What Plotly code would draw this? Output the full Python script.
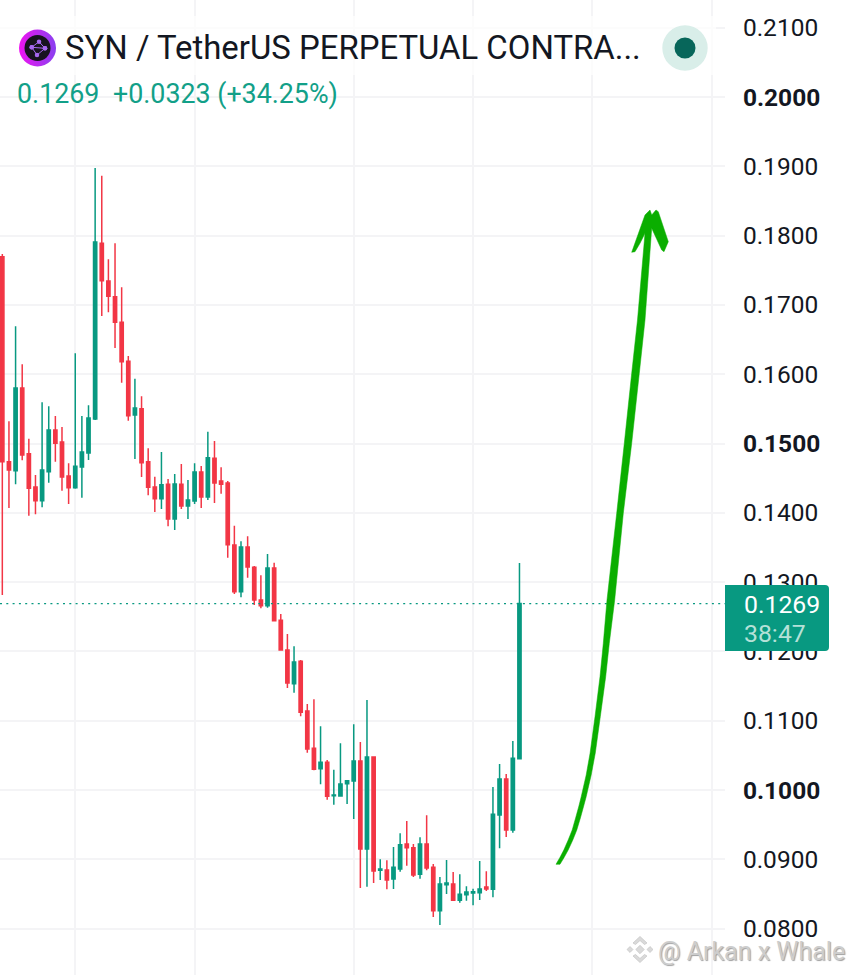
import plotly.graph_objects as go

# candle values
opens = [0.17695, 0.14737, 0.14608, 0.15801, 0.14853, 0.14372, 0.14175, 0.14593, 0.15195, 0.15022,
         0.14531, 0.14362, 0.14661, 0.14863, 0.15354, 0.17889, 0.17345, 0.17118, 0.16749, 0.16186,
         0.15411, 0.15502, 0.14737, 0.14372, 0.14204, 0.14411, 0.13911, 0.14411, 0.14098, 0.14170,
         0.14589, 0.14228, 0.14786, 0.14459, 0.14430, 0.13535, 0.12862, 0.13506, 0.13214, 0.12742,
         0.12660, 0.13203, 0.12449, 0.12020, 0.11534, 0.11857, 0.11140, 0.10602, 0.10307, 0.10400,
         0.09918, 0.09913, 0.10091, 0.10130, 0.10418, 0.09149, 0.10476, 0.08841, 0.08846, 0.08716,
         0.08860, 0.09221, 0.09167, 0.08784, 0.09221, 0.08885, 0.08258, 0.08633, 0.08644, 0.08408,
         0.08489, 0.08514, 0.08518, 0.08600, 0.08567, 0.09639, 0.10159, 0.09423, 0.10452]
highs = [0.17734, 0.15320, 0.16691, 0.16143, 0.15069, 0.14545, 0.15595, 0.15537, 0.15397, 0.15238,
         0.14714, 0.16302, 0.15397, 0.15551, 0.18975, 0.18864, 0.17658, 0.17889, 0.17254, 0.16263,
         0.15935, 0.15681, 0.14931, 0.14521, 0.14877, 0.14488, 0.14560, 0.14704, 0.14473, 0.14714,
         0.14675, 0.15170, 0.15036, 0.14657, 0.14459, 0.13814, 0.13589, 0.13661, 0.13233, 0.13098,
         0.13405, 0.13280, 0.12540, 0.12251, 0.12074, 0.11876, 0.11241, 0.11309, 0.10919, 0.10433,
         0.10293, 0.10674, 0.10144, 0.10948, 0.10693, 0.11299, 0.10476, 0.09000, 0.08986, 0.09177,
         0.09375, 0.09553, 0.09221, 0.09317, 0.09635, 0.08932, 0.08745, 0.08990, 0.08817, 0.08784,
         0.08610, 0.08576, 0.08975, 0.08827, 0.10043, 0.10375, 0.10231, 0.10707, 0.13276]
lows = [0.12814, 0.14069, 0.14411, 0.14758, 0.13958, 0.13978, 0.14079, 0.14434, 0.14737, 0.14319,
        0.14127, 0.14348, 0.14218, 0.14762, 0.15339, 0.16840, 0.16893, 0.16378, 0.15877, 0.15329,
        0.14776, 0.14517, 0.14252, 0.14012, 0.14055, 0.13805, 0.13752, 0.14055, 0.13911, 0.14127,
        0.14069, 0.14185, 0.14141, 0.14274, 0.13352, 0.12828, 0.12781, 0.13063, 0.12670, 0.12622,
        0.12631, 0.12443, 0.12016, 0.11472, 0.11404, 0.11063, 0.10538, 0.10284, 0.10082, 0.09860,
        0.09788, 0.09913, 0.09798, 0.09582, 0.08586, 0.08605, 0.08658, 0.08701, 0.08567, 0.08571,
        0.08821, 0.08908, 0.08745, 0.08720, 0.08841, 0.08167, 0.08052, 0.08499, 0.08408, 0.08374,
        0.08403, 0.08336, 0.08413, 0.08543, 0.08452, 0.09159, 0.09322, 0.09384, 0.10452]
closes = [0.14737, 0.14618, 0.15801, 0.14834, 0.14354, 0.14175, 0.14618, 0.15195, 0.15003, 0.14517,
          0.14362, 0.14671, 0.14877, 0.15368, 0.17908, 0.17349, 0.17124, 0.16749, 0.16180, 0.15401,
          0.15512, 0.14723, 0.14368, 0.14204, 0.14406, 0.13911, 0.14416, 0.14098, 0.14185, 0.14589,
          0.14228, 0.14795, 0.14430, 0.14411, 0.13540, 0.12862, 0.13506, 0.13218, 0.12742, 0.12660,
          0.13203, 0.12443, 0.12020, 0.11544, 0.11847, 0.11121, 0.10592, 0.10299, 0.10400, 0.09909,
          0.09928, 0.10087, 0.10134, 0.10418, 0.09149, 0.10476, 0.08831, 0.08860, 0.08701, 0.08885,
          0.09211, 0.09167, 0.08773, 0.09221, 0.08874, 0.08258, 0.08644, 0.08658, 0.08408, 0.08495,
          0.08528, 0.08533, 0.08571, 0.08571, 0.09649, 0.10159, 0.09423, 0.10458, 0.12690]

price_ticks = [0.21, 0.20, 0.19, 0.18, 0.17, 0.16, 0.15, 0.14, 0.13, 0.12, 0.11, 0.10, 0.09, 0.08]
price_labels = ["0.2100", "<b>0.2000</b>", "0.1900", "0.1800", "0.1700", "0.1600", "<b>0.1500</b>",
                "0.1400", "0.1300", "0.1200", "0.1100", "<b>0.1000</b>", "0.0900", "0.0800"]
time_grid = [11, 29, 53, 71, 89, 107]
last_price = 0.1269

W, H = 853, 975
PLOT_W = 725
UP, DOWN = "#089981", "#F23645"
TEXT = "#131722"
GRID = "#F4F4F6"
FONT = "Roboto"


# decorations are placed in picture pixels, these turn them into paper / data units
def px(x):
    return x / PLOT_W


def py(y):
    return 1 - y / H


def dx(x):
    return (x - 2.3) / 6.63


def dy(y):
    return (1483 - y) / 6930


def poly(points):
    return "M" + " L".join(f"{px(x):.5f},{py(y):.5f}" for x, y in points) + " Z"


def diamond(cx, cy, r):
    return poly([(cx - r, cy), (cx, cy - r), (cx + r, cy), (cx, cy + r)])


def circle(cx, cy, r, color):
    return dict(type="circle", xref="paper", yref="paper", x0=px(cx - r), x1=px(cx + r),
                y0=py(cy + r), y1=py(cy - r), fillcolor=color, line_width=0, layer="above")


def label(x, y, text, size, color, anchor="left", **font):
    return dict(x=px(x), y=py(y), xref="paper", yref="paper", text=text, showarrow=False,
                xanchor=anchor, yanchor="middle", align="left", borderpad=0,
                font=dict(family=FONT, size=size, color=color, **font))


arrow = [(560, 864.3), (564.1, 857.5), (568.2, 850), (572.8, 840), (576.8, 830), (580.4, 818),
         (583.7, 806), (586.2, 796.7), (591.2, 775), (595.3, 753), (600.3, 716.7),
         (605.7, 676.7), (609.3, 643.3), (614.7, 600), (623.3, 513.3), (631.7, 443.3), (639.3, 373.3),
         (645, 320), (651.7, 228.3), (661.7, 250), (664, 251.7), (668.3, 241.7), (658.3, 211.7),
         (656, 210), (651.7, 215), (650, 210), (645, 215), (631.7, 252.3), (635, 251.7), (640, 243.3),
         (645, 233.3), (637.5, 320), (631.7, 373.3), (624.3, 443.3), (616.7, 513.3), (607, 600),
         (603.3, 643.3), (600, 676.7), (595, 716.7), (590.1, 753), (586.2, 775), (581.2, 796.7),
         (578.9, 806), (575.6, 818), (572.2, 830), (568.2, 840), (563.8, 850), (559.9, 857.5), (556, 864.3)]

tag = (f"M{px(725)},{py(585)} L{px(825)},{py(585)} Q{px(829)},{py(585)} {px(829)},{py(589)} "
       f"L{px(829)},{py(647)} Q{px(829)},{py(651)} {px(825)},{py(651)} L{px(725)},{py(651)} Z")

fig = go.Figure()
fig.add_trace(go.Candlestick(
    x=list(range(len(opens))), open=opens, high=highs, low=lows, close=closes,
    increasing=dict(line=dict(color=UP, width=1.5), fillcolor=UP),
    decreasing=dict(line=dict(color=DOWN, width=1.5), fillcolor=DOWN),
    whiskerwidth=0, showlegend=False, hoverinfo="skip",
))
# dotted last price line
fig.add_trace(go.Scatter(
    x=[-0.35, 109], y=[last_price, last_price], mode="lines",
    line=dict(color=UP, width=1.3, dash="2px,4.3px"), showlegend=False, hoverinfo="skip",
))
# coin logo
fig.add_trace(go.Scatter(
    x=[dx(37.5)], y=[dy(48)], mode="markers", showlegend=False, hoverinfo="skip",
    marker=dict(size=37, color="#EC14F0", line_width=0, gradient=dict(type="horizontal", color="#8A40F0")),
))
fig.add_trace(go.Scatter(
    x=[dx(37.5)], y=[dy(48)], mode="markers", showlegend=False, hoverinfo="skip",
    marker=dict(size=26, color="#17131F", line_width=0),
))
fig.add_trace(go.Scatter(
    x=[dx(45), dx(39), dx(31.7), dx(45), dx(37), dx(31.7)],
    y=[dy(48.3), dy(41.7), dy(47.3), dy(48.3), dy(55), dy(47.3)],
    mode="lines+markers", showlegend=False, hoverinfo="skip",
    line=dict(color="#A668F0", width=1), marker=dict(size=4.5, color="#A668F0"),
))

shapes = [
    # header veil over the grid
    dict(type="rect", xref="paper", yref="paper", x0=0, x1=px(716), y0=py(29), y1=py(16),
         fillcolor="rgba(255,255,255,0.7)", line_width=0, layer="above"),
    dict(type="rect", xref="paper", yref="paper", x0=px(60), x1=px(716), y0=py(75), y1=py(29),
         fillcolor="rgba(255,255,255,0.7)", line_width=0, layer="above"),
    circle(685, 48, 22.7, "#D9EEE9"),
    circle(685, 48, 10.5, "#07665A"),
    dict(type="path", xref="paper", yref="paper", path=poly(arrow), fillcolor="#0AAE00",
         line=dict(color="#0AAE00", width=0.5), layer="above"),
    dict(type="path", xref="paper", yref="paper", path=tag, fillcolor=UP, line_width=0, layer="above"),
    # watermark logo
    dict(type="path", xref="paper", yref="paper", path=diamond(640, 949.5, 4.2), fillcolor="#DADADA",
         line=dict(color="#C4C4C4", width=0.7), layer="above"),
    dict(type="path", xref="paper", yref="paper", path=diamond(630, 949.5, 3), fillcolor="#DADADA",
         line=dict(color="#C4C4C4", width=0.7), layer="above"),
    dict(type="path", xref="paper", yref="paper", path=diamond(650, 949.5, 3), fillcolor="#DADADA",
         line=dict(color="#C4C4C4", width=0.7), layer="above"),
    dict(type="path", xref="paper", yref="paper",
         path=poly([(633, 943), (640, 936.5), (647, 943), (644.5, 944.5), (640, 940.5), (635.5, 944.5)]),
         fillcolor="#DADADA", line=dict(color="#C4C4C4", width=0.7), layer="above"),
    dict(type="path", xref="paper", yref="paper",
         path=poly([(633, 956), (640, 962.5), (647, 956), (644.5, 954.5), (640, 958.5), (635.5, 954.5)]),
         fillcolor="#DADADA", line=dict(color="#C4C4C4", width=0.7), layer="above"),
]

annotations = [
    label(64, 47, "SYN / TetherUS PERPETUAL CONTRA...", 32.9, TEXT),
    label(15.5, 94, "0.1269", 26.8, "#12A088"),
    label(111.5, 94, "+0.0323 (+34.25%)", 26.8, "#12A088"),
    label(742.5, 604, "0.1269", 24.8, "#FFFFFF"),
    label(742.5, 633, "38:47", 24.8, "#B5E1D8"),
    label(657, 951, "@ Arkan x Whale", 25, "#CDCDCD", shadow="1px 1px 1px #A0A0A0"),
]

fig.update_layout(
    width=W, height=H, margin=dict(l=0, r=W - PLOT_W, t=0, b=0),
    paper_bgcolor="white", plot_bgcolor="white", showlegend=False,
    shapes=shapes, annotations=annotations,
    xaxis=dict(range=[-0.35, 109], rangeslider_visible=False, tickmode="array", tickvals=time_grid,
               showticklabels=False, showgrid=True, gridcolor=GRID, gridwidth=1.5, zeroline=False,
               showline=False, ticks=""),
    yaxis=dict(range=[dy(975), dy(0)], side="right", tickmode="array", tickvals=price_ticks,
               ticktext=price_labels, showgrid=True, gridcolor=GRID, gridwidth=1.5, zeroline=False,
               showline=False, ticks="outside", ticklen=12, tickcolor="rgba(0,0,0,0)",
               tickfont=dict(family=FONT, size=24.5, color=TEXT), automargin=False),
)

fig.write_html("out.html", config=dict(displayModeBar=False),
               post_script="document.body.style.margin='0';document.body.style.overflow='hidden';")
